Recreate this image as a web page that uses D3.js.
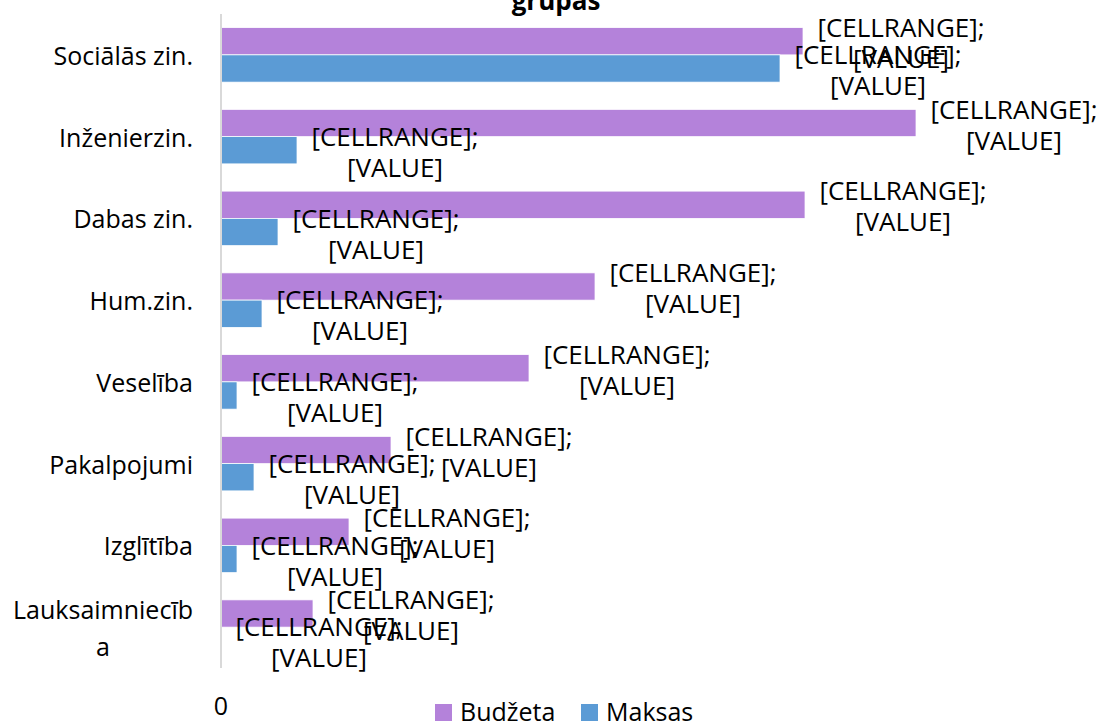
<!DOCTYPE html>
<html>
<head>
<meta charset="utf-8">
<script src="https://cdn.jsdelivr.net/npm/d3@7"></script>
<style>
  body { margin: 0; background: #fff; }
  svg { display: block; font-family: "Open Sans", sans-serif; }
</style>
</head>
<body>
<svg width="1100" height="722"></svg>
<script>
// categories, top to bottom
var categories = ["Sociālās zin.", "Inženierzin.", "Dabas zin.", "Hum.zin.", "Veselība", "Pakalpojumi", "Izglītība", "Lauksaimniecība"];
// label lines as they wrap in the original
var categoryLines = [["Sociālās zin."], ["Inženierzin."], ["Dabas zin."], ["Hum.zin."], ["Veselība"], ["Pakalpojumi"], ["Izglītība"], ["Lauksaimniecīb", "a"]];
var seriesNames = ["Budžeta", "Maksas"];
var seriesColors = ["#B482DA", "#5B9BD5"];
// estimated values (no value axis in the picture)
var budzeta = [582, 695, 584, 374, 308, 170, 128, 92];
var maksas = [559, 76, 57, 41, 16, 33, 16, 0];
var xTicks = [0];

var svg = d3.select("svg");

var x = d3.scaleLinear().domain([0, 695]).range([221, 916]);
var y = d3.scaleBand().domain(categories).range([14, 668]).paddingInner(1/3).paddingOuter(1/6);
var ySub = d3.scaleBand().domain(seriesNames).range([0, y.bandwidth()]);

var rows = [];
categories.forEach(function (c, i) {
  rows.push({ cat: c, series: "Budžeta", value: budzeta[i], color: seriesColors[0] });
  rows.push({ cat: c, series: "Maksas", value: maksas[i], color: seriesColors[1] });
});

// title (first line is off the top of the picture)
svg.append("text")
  .attr("x", 556).attr("y", 10)
  .attr("text-anchor", "middle")
  .style("font-weight", "bold").style("font-size", "26px")
  .text("grupas");

// bars
svg.append("g").selectAll("rect")
  .data(rows)
  .enter().append("rect")
  .attr("x", x(0))
  .attr("y", function (d) { return y(d.cat) + ySub(d.series); })
  .attr("width", function (d) { return x(d.value) - x(0); })
  .attr("height", ySub.bandwidth())
  .attr("fill", function (d) { return d.color; })
  .attr("stroke", "#fff").attr("stroke-width", 0.75);

// vertical axis line
svg.append("line")
  .attr("x1", x(0)).attr("x2", x(0))
  .attr("y1", y.range()[0]).attr("y2", y.range()[1])
  .attr("stroke", "#D9D9D9").attr("stroke-width", 2);

// category labels
var catG = svg.append("g").style("font-size", "25px").attr("fill", "#000");
categories.forEach(function (c, i) {
  var lines = categoryLines[i];
  var cy = y(c) + y.bandwidth() / 2;
  var t = catG.append("text").attr("text-anchor", "middle").attr("dominant-baseline", "central");
  lines.forEach(function (l, j) {
    t.append("tspan").attr("x", 0).attr("y", cy + (j - (lines.length - 1) / 2) * 37).text(l);
  });
  var w = t.node().getBBox().width;
  t.selectAll("tspan").attr("x", 193 - w / 2);
});

// data labels
var lab = svg.append("g").style("font-size", "26px").attr("fill", "#000");
rows.forEach(function (d) {
  var cx = x(d.value) + 98;
  var cy = y(d.cat) + ySub(d.series) + ySub.bandwidth() / 2 + 1;
  var t = lab.append("text").attr("text-anchor", "middle").attr("dominant-baseline", "central");
  t.append("tspan").attr("x", cx).attr("y", cy - 15.5).text("[CELLRANGE];");
  t.append("tspan").attr("x", cx).attr("y", cy + 15.5).text("[VALUE]");
});

// x tick label
svg.append("g").selectAll("text")
  .data(xTicks)
  .enter().append("text")
  .attr("x", function (d) { return x(d); })
  .attr("y", 705)
  .attr("text-anchor", "middle").attr("dominant-baseline", "central")
  .style("font-size", "25px")
  .text(function (d) { return d; });

// legend
var legendX = [435, 581];
var leg = svg.append("g");
seriesNames.forEach(function (s, i) {
  leg.append("rect").attr("x", legendX[i]).attr("y", 704).attr("width", 17).attr("height", 17).attr("fill", seriesColors[i]);
  leg.append("text").attr("x", legendX[i] + 25).attr("y", 711)
    .attr("dominant-baseline", "central").style("font-size", "25px").text(s);
});
</script>
</body>
</html>
